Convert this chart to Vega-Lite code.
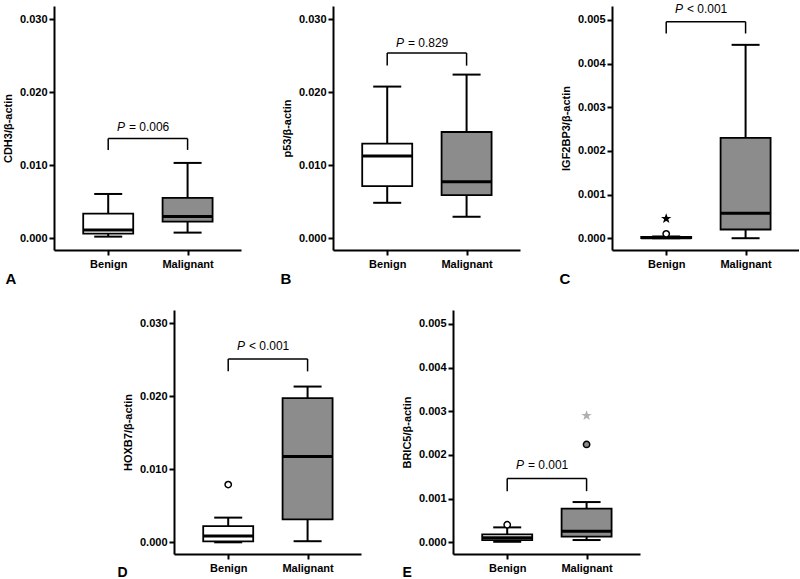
{
  "$schema": "https://vega.github.io/schema/vega-lite/v6.json",
  "background": "white",
  "padding": {"left": 2, "top": 3, "right": 0, "bottom": 0},
  "config": {
    "view": {"stroke": null},
    "font": "Liberation Sans",
    "axisX": {"domainColor": "black", "domainWidth": 2, "tickColor": "black", "tickWidth": 2, "tickSize": 5, "labelFont": "Liberation Sans", "labelFontWeight": "bold", "labelFontSize": 11, "labelColor": "black", "labelPadding": 3, "labelFlush": false, "grid": false, "titleFont": "Liberation Sans", "titleFontSize": 15, "titleFontWeight": "bold", "titleColor": "black", "titleAlign": "left", "titleBaseline": "alphabetic", "titleAnchor": "start", "titleY": 33},
    "axisY": {"domainColor": "black", "domainWidth": 2, "tickColor": "black", "tickWidth": 2, "tickSize": 5, "labelFont": "Liberation Sans", "labelFontWeight": "bold", "labelFontSize": 11, "labelColor": "black", "labelPadding": 2, "grid": false, "titleFont": "Liberation Sans", "titleFontSize": 11, "titleFontWeight": "bold", "titleColor": "black", "titlePadding": 6, "format": ".3f"}
  },
  "datasets": {
    "boxes": [
      {"panel": "A", "group": "Benign", "pos": 1, "min": 0.00023, "q1": 0.00064, "median": 0.00114, "q3": 0.00338, "max": 0.00607},
      {"panel": "A", "group": "Malignant", "pos": 2, "min": 0.00078, "q1": 0.00228, "median": 0.00297, "q3": 0.00553, "max": 0.01032},
      {"panel": "B", "group": "Benign", "pos": 1, "min": 0.00486, "q1": 0.00714, "median": 0.01127, "q3": 0.01295, "max": 0.02077},
      {"panel": "B", "group": "Malignant", "pos": 2, "min": 0.00295, "q1": 0.00591, "median": 0.00773, "q3": 0.01455, "max": 0.02241},
      {"panel": "C", "group": "Benign", "pos": 1, "min": 0.0, "q1": 0.000005, "median": 0.00001, "q3": 0.00003, "max": 0.00004},
      {"panel": "C", "group": "Malignant", "pos": 2, "min": 0.0, "q1": 0.0002, "median": 0.00057, "q3": 0.0023, "max": 0.00443},
      {"panel": "D", "group": "Benign", "pos": 1, "min": 0.0, "q1": 0.00012, "median": 0.00085, "q3": 0.00222, "max": 0.00338},
      {"panel": "D", "group": "Malignant", "pos": 2, "min": 0.00015, "q1": 0.00315, "median": 0.01175, "q3": 0.01975, "max": 0.02132},
      {"panel": "E", "group": "Benign", "pos": 1, "min": 0.00001, "q1": 0.00005, "median": 0.0001, "q3": 0.00018, "max": 0.00034},
      {"panel": "E", "group": "Malignant", "pos": 2, "min": 0.00005, "q1": 0.00013, "median": 0.00025, "q3": 0.00077, "max": 0.00092}
    ],
    "outliers": [
      {"panel": "C", "group": "Benign", "pos": 1, "value": 0.0001, "kind": "open"},
      {"panel": "C", "group": "Benign", "pos": 1, "value": 0.00045, "kind": "star"},
      {"panel": "D", "group": "Benign", "pos": 1, "value": 0.0079, "kind": "open"},
      {"panel": "E", "group": "Benign", "pos": 1, "value": 0.0004, "kind": "open"},
      {"panel": "E", "group": "Malignant", "pos": 2, "value": 0.00224, "kind": "filled"},
      {"panel": "E", "group": "Malignant", "pos": 2, "value": 0.0029, "kind": "lightstar"}
    ],
    "tests": [
      {"panel": "A", "from": 1, "to": 2, "mid": 1.5, "top": 0.01365, "low": 0.0121, "ty": 0.0153, "p": "P", "rel": "= 0.006"},
      {"panel": "B", "from": 1, "to": 2, "mid": 1.5, "top": 0.02536, "low": 0.02364, "ty": 0.0268, "p": "P", "rel": "= 0.829"},
      {"panel": "C", "from": 1, "to": 2, "mid": 1.5, "top": 0.00496, "low": 0.00469, "ty": 0.00524, "p": "P", "rel": "< 0.001"},
      {"panel": "D", "from": 1, "to": 2, "mid": 1.5, "top": 0.0251, "low": 0.0234, "ty": 0.0269, "p": "P", "rel": "< 0.001"},
      {"panel": "E", "from": 1, "to": 2, "mid": 1.5, "top": 0.00146, "low": 0.00117, "ty": 0.00178, "p": "P", "rel": "= 0.001"}
    ]
  },
  "spacing": 24,
  "resolve": {"scale": {"x": "independent", "y": "independent"}},
  "vconcat": [
    {
      "spacing": 39,
      "resolve": {"scale": {"x": "independent", "y": "independent"}},
      "hconcat": [
        {
          "width": 187, "height": 244,
          "layer": [
            {"data": {"name": "boxes"}, "transform": [{"filter": "datum.panel === 'A'"}], "mark": {"type": "rule", "stroke": "black", "strokeWidth": 2},
             "encoding": {"x": {"field": "pos", "type": "quantitative", "scale": {"domain": [0.38, 2.61], "nice": false, "zero": false}, "axis": {"values": [1, 2], "labelExpr": "datum.value == 1 ? 'Benign' : 'Malignant'", "title": "A", "titleX": -49}},
                          "y": {"field": "min", "type": "quantitative", "scale": {"domain": [-0.0016, 0.0318], "nice": false, "zero": false}, "axis": {"values": [0, 0.01, 0.02, 0.03], "title": "CDH3/β-actin"}},
                          "y2": {"field": "max"}}},
            {"data": {"name": "boxes"}, "transform": [{"filter": "datum.panel === 'A'"}], "mark": {"type": "tick", "orient": "horizontal", "size": 28, "thickness": 2, "color": "black", "opacity": 1},
             "encoding": {"x": {"field": "pos", "type": "quantitative", "scale": {"domain": [0.38, 2.61], "nice": false, "zero": false}},
                          "y": {"field": "min", "type": "quantitative", "scale": {"domain": [-0.0016, 0.0318], "nice": false, "zero": false}}}},
            {"data": {"name": "boxes"}, "transform": [{"filter": "datum.panel === 'A'"}], "mark": {"type": "tick", "orient": "horizontal", "size": 28, "thickness": 2, "color": "black", "opacity": 1},
             "encoding": {"x": {"field": "pos", "type": "quantitative", "scale": {"domain": [0.38, 2.61], "nice": false, "zero": false}},
                          "y": {"field": "max", "type": "quantitative", "scale": {"domain": [-0.0016, 0.0318], "nice": false, "zero": false}}}},
            {"data": {"name": "boxes"}, "transform": [{"filter": "datum.panel === 'A'"}], "mark": {"type": "bar", "orient": "vertical", "width": 50, "stroke": "black", "strokeWidth": 1.8, "opacity": 1},
             "encoding": {"x": {"field": "pos", "type": "quantitative", "scale": {"domain": [0.38, 2.61], "nice": false, "zero": false}},
                          "y": {"field": "q1", "type": "quantitative", "scale": {"domain": [-0.0016, 0.0318], "nice": false, "zero": false}},
                          "y2": {"field": "q3"},
                          "fill": {"condition": {"test": "datum.group === 'Benign'", "value": "white"}, "value": "#8c8c8c"}}},
            {"data": {"name": "boxes"}, "transform": [{"filter": "datum.panel === 'A'"}], "mark": {"type": "tick", "orient": "horizontal", "size": 50, "thickness": 3, "color": "black", "opacity": 1},
             "encoding": {"x": {"field": "pos", "type": "quantitative", "scale": {"domain": [0.38, 2.61], "nice": false, "zero": false}},
                          "y": {"field": "median", "type": "quantitative", "scale": {"domain": [-0.0016, 0.0318], "nice": false, "zero": false}}}},
            {"data": {"name": "tests"}, "transform": [{"filter": "datum.panel === 'A'"}], "mark": {"type": "rule", "stroke": "black", "strokeWidth": 1.5},
             "encoding": {"x": {"field": "from", "type": "quantitative", "scale": {"domain": [0.38, 2.61], "nice": false, "zero": false}}, "x2": {"field": "to"},
                          "y": {"field": "top", "type": "quantitative", "scale": {"domain": [-0.0016, 0.0318], "nice": false, "zero": false}}}},
            {"data": {"name": "tests"}, "transform": [{"filter": "datum.panel === 'A'"}], "mark": {"type": "rule", "stroke": "black", "strokeWidth": 1.5},
             "encoding": {"x": {"field": "from", "type": "quantitative", "scale": {"domain": [0.38, 2.61], "nice": false, "zero": false}},
                          "y": {"field": "top", "type": "quantitative", "scale": {"domain": [-0.0016, 0.0318], "nice": false, "zero": false}}, "y2": {"field": "low"}}},
            {"data": {"name": "tests"}, "transform": [{"filter": "datum.panel === 'A'"}], "mark": {"type": "rule", "stroke": "black", "strokeWidth": 1.5},
             "encoding": {"x": {"field": "to", "type": "quantitative", "scale": {"domain": [0.38, 2.61], "nice": false, "zero": false}},
                          "y": {"field": "top", "type": "quantitative", "scale": {"domain": [-0.0016, 0.0318], "nice": false, "zero": false}}, "y2": {"field": "low"}}},
            {"data": {"name": "tests"}, "transform": [{"filter": "datum.panel === 'A'"}], "mark": {"type": "text", "align": "right", "baseline": "middle", "dx": -23, "fontSize": 12, "fontStyle": "italic", "color": "black"},
             "encoding": {"x": {"field": "mid", "type": "quantitative", "scale": {"domain": [0.38, 2.61], "nice": false, "zero": false}},
                          "y": {"field": "ty", "type": "quantitative", "scale": {"domain": [-0.0016, 0.0318], "nice": false, "zero": false}}, "text": {"field": "p"}}},
            {"data": {"name": "tests"}, "transform": [{"filter": "datum.panel === 'A'"}], "mark": {"type": "text", "align": "left", "baseline": "middle", "dx": -19, "fontSize": 12, "color": "black"},
             "encoding": {"x": {"field": "mid", "type": "quantitative", "scale": {"domain": [0.38, 2.61], "nice": false, "zero": false}},
                          "y": {"field": "ty", "type": "quantitative", "scale": {"domain": [-0.0016, 0.0318], "nice": false, "zero": false}}, "text": {"field": "rel"}}}
          ]
        },
        {
          "width": 187, "height": 244,
          "layer": [
            {"data": {"name": "boxes"}, "transform": [{"filter": "datum.panel === 'B'"}], "mark": {"type": "rule", "stroke": "black", "strokeWidth": 2},
             "encoding": {"x": {"field": "pos", "type": "quantitative", "scale": {"domain": [0.38, 2.61], "nice": false, "zero": false}, "axis": {"values": [1, 2], "labelExpr": "datum.value == 1 ? 'Benign' : 'Malignant'", "title": "B", "titleX": -53}},
                          "y": {"field": "min", "type": "quantitative", "scale": {"domain": [-0.0016, 0.0318], "nice": false, "zero": false}, "axis": {"values": [0, 0.01, 0.02, 0.03], "title": "p53/β-actin"}},
                          "y2": {"field": "max"}}},
            {"data": {"name": "boxes"}, "transform": [{"filter": "datum.panel === 'B'"}], "mark": {"type": "tick", "orient": "horizontal", "size": 28, "thickness": 2, "color": "black", "opacity": 1},
             "encoding": {"x": {"field": "pos", "type": "quantitative", "scale": {"domain": [0.38, 2.61], "nice": false, "zero": false}},
                          "y": {"field": "min", "type": "quantitative", "scale": {"domain": [-0.0016, 0.0318], "nice": false, "zero": false}}}},
            {"data": {"name": "boxes"}, "transform": [{"filter": "datum.panel === 'B'"}], "mark": {"type": "tick", "orient": "horizontal", "size": 28, "thickness": 2, "color": "black", "opacity": 1},
             "encoding": {"x": {"field": "pos", "type": "quantitative", "scale": {"domain": [0.38, 2.61], "nice": false, "zero": false}},
                          "y": {"field": "max", "type": "quantitative", "scale": {"domain": [-0.0016, 0.0318], "nice": false, "zero": false}}}},
            {"data": {"name": "boxes"}, "transform": [{"filter": "datum.panel === 'B'"}], "mark": {"type": "bar", "orient": "vertical", "width": 50, "stroke": "black", "strokeWidth": 1.8, "opacity": 1},
             "encoding": {"x": {"field": "pos", "type": "quantitative", "scale": {"domain": [0.38, 2.61], "nice": false, "zero": false}},
                          "y": {"field": "q1", "type": "quantitative", "scale": {"domain": [-0.0016, 0.0318], "nice": false, "zero": false}},
                          "y2": {"field": "q3"},
                          "fill": {"condition": {"test": "datum.group === 'Benign'", "value": "white"}, "value": "#8c8c8c"}}},
            {"data": {"name": "boxes"}, "transform": [{"filter": "datum.panel === 'B'"}], "mark": {"type": "tick", "orient": "horizontal", "size": 50, "thickness": 3, "color": "black", "opacity": 1},
             "encoding": {"x": {"field": "pos", "type": "quantitative", "scale": {"domain": [0.38, 2.61], "nice": false, "zero": false}},
                          "y": {"field": "median", "type": "quantitative", "scale": {"domain": [-0.0016, 0.0318], "nice": false, "zero": false}}}},
            {"data": {"name": "tests"}, "transform": [{"filter": "datum.panel === 'B'"}], "mark": {"type": "rule", "stroke": "black", "strokeWidth": 1.5},
             "encoding": {"x": {"field": "from", "type": "quantitative", "scale": {"domain": [0.38, 2.61], "nice": false, "zero": false}}, "x2": {"field": "to"},
                          "y": {"field": "top", "type": "quantitative", "scale": {"domain": [-0.0016, 0.0318], "nice": false, "zero": false}}}},
            {"data": {"name": "tests"}, "transform": [{"filter": "datum.panel === 'B'"}], "mark": {"type": "rule", "stroke": "black", "strokeWidth": 1.5},
             "encoding": {"x": {"field": "from", "type": "quantitative", "scale": {"domain": [0.38, 2.61], "nice": false, "zero": false}},
                          "y": {"field": "top", "type": "quantitative", "scale": {"domain": [-0.0016, 0.0318], "nice": false, "zero": false}}, "y2": {"field": "low"}}},
            {"data": {"name": "tests"}, "transform": [{"filter": "datum.panel === 'B'"}], "mark": {"type": "rule", "stroke": "black", "strokeWidth": 1.5},
             "encoding": {"x": {"field": "to", "type": "quantitative", "scale": {"domain": [0.38, 2.61], "nice": false, "zero": false}},
                          "y": {"field": "top", "type": "quantitative", "scale": {"domain": [-0.0016, 0.0318], "nice": false, "zero": false}}, "y2": {"field": "low"}}},
            {"data": {"name": "tests"}, "transform": [{"filter": "datum.panel === 'B'"}], "mark": {"type": "text", "align": "right", "baseline": "middle", "dx": -23, "fontSize": 12, "fontStyle": "italic", "color": "black"},
             "encoding": {"x": {"field": "mid", "type": "quantitative", "scale": {"domain": [0.38, 2.61], "nice": false, "zero": false}},
                          "y": {"field": "ty", "type": "quantitative", "scale": {"domain": [-0.0016, 0.0318], "nice": false, "zero": false}}, "text": {"field": "p"}}},
            {"data": {"name": "tests"}, "transform": [{"filter": "datum.panel === 'B'"}], "mark": {"type": "text", "align": "left", "baseline": "middle", "dx": -19, "fontSize": 12, "color": "black"},
             "encoding": {"x": {"field": "mid", "type": "quantitative", "scale": {"domain": [0.38, 2.61], "nice": false, "zero": false}},
                          "y": {"field": "ty", "type": "quantitative", "scale": {"domain": [-0.0016, 0.0318], "nice": false, "zero": false}}, "text": {"field": "rel"}}}
          ]
        },
        {
          "width": 187, "height": 244,
          "layer": [
            {"data": {"name": "boxes"}, "transform": [{"filter": "datum.panel === 'C'"}], "mark": {"type": "rule", "stroke": "black", "strokeWidth": 2},
             "encoding": {"x": {"field": "pos", "type": "quantitative", "scale": {"domain": [0.38, 2.61], "nice": false, "zero": false}, "axis": {"values": [1, 2], "labelExpr": "datum.value == 1 ? 'Benign' : 'Malignant'", "title": "C", "titleX": -53}},
                          "y": {"field": "min", "type": "quantitative", "scale": {"domain": [-0.00027, 0.00532], "nice": false, "zero": false}, "axis": {"values": [0, 0.001, 0.002, 0.003, 0.004, 0.005], "title": "IGF2BP3/β-actin"}},
                          "y2": {"field": "max"}}},
            {"data": {"name": "boxes"}, "transform": [{"filter": "datum.panel === 'C'"}], "mark": {"type": "tick", "orient": "horizontal", "size": 28, "thickness": 2, "color": "black", "opacity": 1},
             "encoding": {"x": {"field": "pos", "type": "quantitative", "scale": {"domain": [0.38, 2.61], "nice": false, "zero": false}},
                          "y": {"field": "min", "type": "quantitative", "scale": {"domain": [-0.00027, 0.00532], "nice": false, "zero": false}}}},
            {"data": {"name": "boxes"}, "transform": [{"filter": "datum.panel === 'C'"}], "mark": {"type": "tick", "orient": "horizontal", "size": 28, "thickness": 2, "color": "black", "opacity": 1},
             "encoding": {"x": {"field": "pos", "type": "quantitative", "scale": {"domain": [0.38, 2.61], "nice": false, "zero": false}},
                          "y": {"field": "max", "type": "quantitative", "scale": {"domain": [-0.00027, 0.00532], "nice": false, "zero": false}}}},
            {"data": {"name": "boxes"}, "transform": [{"filter": "datum.panel === 'C'"}], "mark": {"type": "bar", "orient": "vertical", "width": 50, "stroke": "black", "strokeWidth": 1.8, "opacity": 1},
             "encoding": {"x": {"field": "pos", "type": "quantitative", "scale": {"domain": [0.38, 2.61], "nice": false, "zero": false}},
                          "y": {"field": "q1", "type": "quantitative", "scale": {"domain": [-0.00027, 0.00532], "nice": false, "zero": false}},
                          "y2": {"field": "q3"},
                          "fill": {"condition": {"test": "datum.group === 'Benign'", "value": "white"}, "value": "#8c8c8c"}}},
            {"data": {"name": "boxes"}, "transform": [{"filter": "datum.panel === 'C'"}], "mark": {"type": "tick", "orient": "horizontal", "size": 50, "thickness": 3, "color": "black", "opacity": 1},
             "encoding": {"x": {"field": "pos", "type": "quantitative", "scale": {"domain": [0.38, 2.61], "nice": false, "zero": false}},
                          "y": {"field": "median", "type": "quantitative", "scale": {"domain": [-0.00027, 0.00532], "nice": false, "zero": false}}}},
            {"data": {"name": "outliers"}, "transform": [{"filter": "datum.panel === 'C'"}], "mark": {"type": "point", "filled": true, "strokeWidth": 1.5, "opacity": 1},
             "encoding": {"x": {"field": "pos", "type": "quantitative", "scale": {"domain": [0.38, 2.61], "nice": false, "zero": false}},
                          "y": {"field": "value", "type": "quantitative", "scale": {"domain": [-0.00027, 0.00532], "nice": false, "zero": false}},
                          "shape": {"field": "kind", "type": "nominal", "legend": null, "scale": {"domain": ["open", "filled", "star", "lightstar"], "range": ["circle", "circle", "M0,-1L0.235,-0.324L0.951,-0.309L0.38,0.124L0.588,0.809L0,0.4L-0.588,0.809L-0.38,0.124L-0.951,-0.309L-0.235,-0.324Z", "M0,-1L0.235,-0.324L0.951,-0.309L0.38,0.124L0.588,0.809L0,0.4L-0.588,0.809L-0.38,0.124L-0.951,-0.309L-0.235,-0.324Z"]}},
                          "fill": {"field": "kind", "type": "nominal", "legend": null, "scale": {"domain": ["open", "filled", "star", "lightstar"], "range": ["white", "#8c8c8c", "black", "#b0b0b0"]}},
                          "stroke": {"field": "kind", "type": "nominal", "legend": null, "scale": {"domain": ["open", "filled", "star", "lightstar"], "range": ["black", "black", "black", "#b0b0b0"]}},
                          "size": {"field": "kind", "type": "nominal", "legend": null, "scale": {"domain": ["open", "filled", "star", "lightstar"], "range": [40, 40, 70, 70]}}}},
            {"data": {"name": "tests"}, "transform": [{"filter": "datum.panel === 'C'"}], "mark": {"type": "rule", "stroke": "black", "strokeWidth": 1.5},
             "encoding": {"x": {"field": "from", "type": "quantitative", "scale": {"domain": [0.38, 2.61], "nice": false, "zero": false}}, "x2": {"field": "to"},
                          "y": {"field": "top", "type": "quantitative", "scale": {"domain": [-0.00027, 0.00532], "nice": false, "zero": false}}}},
            {"data": {"name": "tests"}, "transform": [{"filter": "datum.panel === 'C'"}], "mark": {"type": "rule", "stroke": "black", "strokeWidth": 1.5},
             "encoding": {"x": {"field": "from", "type": "quantitative", "scale": {"domain": [0.38, 2.61], "nice": false, "zero": false}},
                          "y": {"field": "top", "type": "quantitative", "scale": {"domain": [-0.00027, 0.00532], "nice": false, "zero": false}}, "y2": {"field": "low"}}},
            {"data": {"name": "tests"}, "transform": [{"filter": "datum.panel === 'C'"}], "mark": {"type": "rule", "stroke": "black", "strokeWidth": 1.5},
             "encoding": {"x": {"field": "to", "type": "quantitative", "scale": {"domain": [0.38, 2.61], "nice": false, "zero": false}},
                          "y": {"field": "top", "type": "quantitative", "scale": {"domain": [-0.00027, 0.00532], "nice": false, "zero": false}}, "y2": {"field": "low"}}},
            {"data": {"name": "tests"}, "transform": [{"filter": "datum.panel === 'C'"}], "mark": {"type": "text", "align": "right", "baseline": "middle", "dx": -23, "fontSize": 12, "fontStyle": "italic", "color": "black"},
             "encoding": {"x": {"field": "mid", "type": "quantitative", "scale": {"domain": [0.38, 2.61], "nice": false, "zero": false}},
                          "y": {"field": "ty", "type": "quantitative", "scale": {"domain": [-0.00027, 0.00532], "nice": false, "zero": false}}, "text": {"field": "p"}}},
            {"data": {"name": "tests"}, "transform": [{"filter": "datum.panel === 'C'"}], "mark": {"type": "text", "align": "left", "baseline": "middle", "dx": -19, "fontSize": 12, "color": "black"},
             "encoding": {"x": {"field": "mid", "type": "quantitative", "scale": {"domain": [0.38, 2.61], "nice": false, "zero": false}},
                          "y": {"field": "ty", "type": "quantitative", "scale": {"domain": [-0.00027, 0.00532], "nice": false, "zero": false}}, "text": {"field": "rel"}}}
          ]
        }
      ]
    },
    {
      "spacing": 40,
      "resolve": {"scale": {"x": "independent", "y": "independent"}},
      "hconcat": [
        {"width": 23, "height": 244, "data": {"values": []}, "mark": "text"},
        {
          "width": 187, "height": 244,
          "layer": [
            {"data": {"name": "boxes"}, "transform": [{"filter": "datum.panel === 'D'"}], "mark": {"type": "rule", "stroke": "black", "strokeWidth": 2},
             "encoding": {"x": {"field": "pos", "type": "quantitative", "scale": {"domain": [0.38, 2.61], "nice": false, "zero": false}, "axis": {"values": [1, 2], "labelExpr": "datum.value == 1 ? 'Benign' : 'Malignant'", "title": "D", "titleX": -57, "titleY": 22, "titleFontSize": 14}},
                          "y": {"field": "min", "type": "quantitative", "scale": {"domain": [-0.0016, 0.0318], "nice": false, "zero": false}, "axis": {"values": [0, 0.01, 0.02, 0.03], "title": "HOXB7/β-actin"}},
                          "y2": {"field": "max"}}},
            {"data": {"name": "boxes"}, "transform": [{"filter": "datum.panel === 'D'"}], "mark": {"type": "tick", "orient": "horizontal", "size": 28, "thickness": 2, "color": "black", "opacity": 1},
             "encoding": {"x": {"field": "pos", "type": "quantitative", "scale": {"domain": [0.38, 2.61], "nice": false, "zero": false}},
                          "y": {"field": "min", "type": "quantitative", "scale": {"domain": [-0.0016, 0.0318], "nice": false, "zero": false}}}},
            {"data": {"name": "boxes"}, "transform": [{"filter": "datum.panel === 'D'"}], "mark": {"type": "tick", "orient": "horizontal", "size": 28, "thickness": 2, "color": "black", "opacity": 1},
             "encoding": {"x": {"field": "pos", "type": "quantitative", "scale": {"domain": [0.38, 2.61], "nice": false, "zero": false}},
                          "y": {"field": "max", "type": "quantitative", "scale": {"domain": [-0.0016, 0.0318], "nice": false, "zero": false}}}},
            {"data": {"name": "boxes"}, "transform": [{"filter": "datum.panel === 'D'"}], "mark": {"type": "bar", "orient": "vertical", "width": 50, "stroke": "black", "strokeWidth": 1.8, "opacity": 1},
             "encoding": {"x": {"field": "pos", "type": "quantitative", "scale": {"domain": [0.38, 2.61], "nice": false, "zero": false}},
                          "y": {"field": "q1", "type": "quantitative", "scale": {"domain": [-0.0016, 0.0318], "nice": false, "zero": false}},
                          "y2": {"field": "q3"},
                          "fill": {"condition": {"test": "datum.group === 'Benign'", "value": "white"}, "value": "#8c8c8c"}}},
            {"data": {"name": "boxes"}, "transform": [{"filter": "datum.panel === 'D'"}], "mark": {"type": "tick", "orient": "horizontal", "size": 50, "thickness": 3, "color": "black", "opacity": 1},
             "encoding": {"x": {"field": "pos", "type": "quantitative", "scale": {"domain": [0.38, 2.61], "nice": false, "zero": false}},
                          "y": {"field": "median", "type": "quantitative", "scale": {"domain": [-0.0016, 0.0318], "nice": false, "zero": false}}}},
            {"data": {"name": "outliers"}, "transform": [{"filter": "datum.panel === 'D'"}], "mark": {"type": "point", "filled": true, "strokeWidth": 1.5, "opacity": 1},
             "encoding": {"x": {"field": "pos", "type": "quantitative", "scale": {"domain": [0.38, 2.61], "nice": false, "zero": false}},
                          "y": {"field": "value", "type": "quantitative", "scale": {"domain": [-0.0016, 0.0318], "nice": false, "zero": false}},
                          "shape": {"field": "kind", "type": "nominal", "legend": null, "scale": {"domain": ["open", "filled", "star", "lightstar"], "range": ["circle", "circle", "M0,-1L0.235,-0.324L0.951,-0.309L0.38,0.124L0.588,0.809L0,0.4L-0.588,0.809L-0.38,0.124L-0.951,-0.309L-0.235,-0.324Z", "M0,-1L0.235,-0.324L0.951,-0.309L0.38,0.124L0.588,0.809L0,0.4L-0.588,0.809L-0.38,0.124L-0.951,-0.309L-0.235,-0.324Z"]}},
                          "fill": {"field": "kind", "type": "nominal", "legend": null, "scale": {"domain": ["open", "filled", "star", "lightstar"], "range": ["white", "#8c8c8c", "black", "#b0b0b0"]}},
                          "stroke": {"field": "kind", "type": "nominal", "legend": null, "scale": {"domain": ["open", "filled", "star", "lightstar"], "range": ["black", "black", "black", "#b0b0b0"]}},
                          "size": {"field": "kind", "type": "nominal", "legend": null, "scale": {"domain": ["open", "filled", "star", "lightstar"], "range": [40, 40, 70, 70]}}}},
            {"data": {"name": "tests"}, "transform": [{"filter": "datum.panel === 'D'"}], "mark": {"type": "rule", "stroke": "black", "strokeWidth": 1.5},
             "encoding": {"x": {"field": "from", "type": "quantitative", "scale": {"domain": [0.38, 2.61], "nice": false, "zero": false}}, "x2": {"field": "to"},
                          "y": {"field": "top", "type": "quantitative", "scale": {"domain": [-0.0016, 0.0318], "nice": false, "zero": false}}}},
            {"data": {"name": "tests"}, "transform": [{"filter": "datum.panel === 'D'"}], "mark": {"type": "rule", "stroke": "black", "strokeWidth": 1.5},
             "encoding": {"x": {"field": "from", "type": "quantitative", "scale": {"domain": [0.38, 2.61], "nice": false, "zero": false}},
                          "y": {"field": "top", "type": "quantitative", "scale": {"domain": [-0.0016, 0.0318], "nice": false, "zero": false}}, "y2": {"field": "low"}}},
            {"data": {"name": "tests"}, "transform": [{"filter": "datum.panel === 'D'"}], "mark": {"type": "rule", "stroke": "black", "strokeWidth": 1.5},
             "encoding": {"x": {"field": "to", "type": "quantitative", "scale": {"domain": [0.38, 2.61], "nice": false, "zero": false}},
                          "y": {"field": "top", "type": "quantitative", "scale": {"domain": [-0.0016, 0.0318], "nice": false, "zero": false}}, "y2": {"field": "low"}}},
            {"data": {"name": "tests"}, "transform": [{"filter": "datum.panel === 'D'"}], "mark": {"type": "text", "align": "right", "baseline": "middle", "dx": -23, "fontSize": 12, "fontStyle": "italic", "color": "black"},
             "encoding": {"x": {"field": "mid", "type": "quantitative", "scale": {"domain": [0.38, 2.61], "nice": false, "zero": false}},
                          "y": {"field": "ty", "type": "quantitative", "scale": {"domain": [-0.0016, 0.0318], "nice": false, "zero": false}}, "text": {"field": "p"}}},
            {"data": {"name": "tests"}, "transform": [{"filter": "datum.panel === 'D'"}], "mark": {"type": "text", "align": "left", "baseline": "middle", "dx": -19, "fontSize": 12, "color": "black"},
             "encoding": {"x": {"field": "mid", "type": "quantitative", "scale": {"domain": [0.38, 2.61], "nice": false, "zero": false}},
                          "y": {"field": "ty", "type": "quantitative", "scale": {"domain": [-0.0016, 0.0318], "nice": false, "zero": false}}, "text": {"field": "rel"}}}
          ]
        },
        {
          "width": 187, "height": 244,
          "layer": [
            {"data": {"name": "boxes"}, "transform": [{"filter": "datum.panel === 'E'"}], "mark": {"type": "rule", "stroke": "black", "strokeWidth": 2},
             "encoding": {"x": {"field": "pos", "type": "quantitative", "scale": {"domain": [0.38, 2.61], "nice": false, "zero": false}, "axis": {"values": [1, 2], "labelExpr": "datum.value == 1 ? 'Benign' : 'Malignant'", "title": "E", "titleX": -51, "titleY": 22, "titleFontSize": 14}},
                          "y": {"field": "min", "type": "quantitative", "scale": {"domain": [-0.00027, 0.00532], "nice": false, "zero": false}, "axis": {"values": [0, 0.001, 0.002, 0.003, 0.004, 0.005], "title": "BRIC5/β-actin"}},
                          "y2": {"field": "max"}}},
            {"data": {"name": "boxes"}, "transform": [{"filter": "datum.panel === 'E'"}], "mark": {"type": "tick", "orient": "horizontal", "size": 28, "thickness": 2, "color": "black", "opacity": 1},
             "encoding": {"x": {"field": "pos", "type": "quantitative", "scale": {"domain": [0.38, 2.61], "nice": false, "zero": false}},
                          "y": {"field": "min", "type": "quantitative", "scale": {"domain": [-0.00027, 0.00532], "nice": false, "zero": false}}}},
            {"data": {"name": "boxes"}, "transform": [{"filter": "datum.panel === 'E'"}], "mark": {"type": "tick", "orient": "horizontal", "size": 28, "thickness": 2, "color": "black", "opacity": 1},
             "encoding": {"x": {"field": "pos", "type": "quantitative", "scale": {"domain": [0.38, 2.61], "nice": false, "zero": false}},
                          "y": {"field": "max", "type": "quantitative", "scale": {"domain": [-0.00027, 0.00532], "nice": false, "zero": false}}}},
            {"data": {"name": "boxes"}, "transform": [{"filter": "datum.panel === 'E'"}], "mark": {"type": "bar", "orient": "vertical", "width": 50, "stroke": "black", "strokeWidth": 1.8, "opacity": 1},
             "encoding": {"x": {"field": "pos", "type": "quantitative", "scale": {"domain": [0.38, 2.61], "nice": false, "zero": false}},
                          "y": {"field": "q1", "type": "quantitative", "scale": {"domain": [-0.00027, 0.00532], "nice": false, "zero": false}},
                          "y2": {"field": "q3"},
                          "fill": {"condition": {"test": "datum.group === 'Benign'", "value": "white"}, "value": "#8c8c8c"}}},
            {"data": {"name": "boxes"}, "transform": [{"filter": "datum.panel === 'E'"}], "mark": {"type": "tick", "orient": "horizontal", "size": 50, "thickness": 3, "color": "black", "opacity": 1},
             "encoding": {"x": {"field": "pos", "type": "quantitative", "scale": {"domain": [0.38, 2.61], "nice": false, "zero": false}},
                          "y": {"field": "median", "type": "quantitative", "scale": {"domain": [-0.00027, 0.00532], "nice": false, "zero": false}}}},
            {"data": {"name": "outliers"}, "transform": [{"filter": "datum.panel === 'E'"}], "mark": {"type": "point", "filled": true, "strokeWidth": 1.5, "opacity": 1},
             "encoding": {"x": {"field": "pos", "type": "quantitative", "scale": {"domain": [0.38, 2.61], "nice": false, "zero": false}},
                          "y": {"field": "value", "type": "quantitative", "scale": {"domain": [-0.00027, 0.00532], "nice": false, "zero": false}},
                          "shape": {"field": "kind", "type": "nominal", "legend": null, "scale": {"domain": ["open", "filled", "star", "lightstar"], "range": ["circle", "circle", "M0,-1L0.235,-0.324L0.951,-0.309L0.38,0.124L0.588,0.809L0,0.4L-0.588,0.809L-0.38,0.124L-0.951,-0.309L-0.235,-0.324Z", "M0,-1L0.235,-0.324L0.951,-0.309L0.38,0.124L0.588,0.809L0,0.4L-0.588,0.809L-0.38,0.124L-0.951,-0.309L-0.235,-0.324Z"]}},
                          "fill": {"field": "kind", "type": "nominal", "legend": null, "scale": {"domain": ["open", "filled", "star", "lightstar"], "range": ["white", "#8c8c8c", "black", "#b0b0b0"]}},
                          "stroke": {"field": "kind", "type": "nominal", "legend": null, "scale": {"domain": ["open", "filled", "star", "lightstar"], "range": ["black", "black", "black", "#b0b0b0"]}},
                          "size": {"field": "kind", "type": "nominal", "legend": null, "scale": {"domain": ["open", "filled", "star", "lightstar"], "range": [40, 40, 70, 70]}}}},
            {"data": {"name": "tests"}, "transform": [{"filter": "datum.panel === 'E'"}], "mark": {"type": "rule", "stroke": "black", "strokeWidth": 1.5},
             "encoding": {"x": {"field": "from", "type": "quantitative", "scale": {"domain": [0.38, 2.61], "nice": false, "zero": false}}, "x2": {"field": "to"},
                          "y": {"field": "top", "type": "quantitative", "scale": {"domain": [-0.00027, 0.00532], "nice": false, "zero": false}}}},
            {"data": {"name": "tests"}, "transform": [{"filter": "datum.panel === 'E'"}], "mark": {"type": "rule", "stroke": "black", "strokeWidth": 1.5},
             "encoding": {"x": {"field": "from", "type": "quantitative", "scale": {"domain": [0.38, 2.61], "nice": false, "zero": false}},
                          "y": {"field": "top", "type": "quantitative", "scale": {"domain": [-0.00027, 0.00532], "nice": false, "zero": false}}, "y2": {"field": "low"}}},
            {"data": {"name": "tests"}, "transform": [{"filter": "datum.panel === 'E'"}], "mark": {"type": "rule", "stroke": "black", "strokeWidth": 1.5},
             "encoding": {"x": {"field": "to", "type": "quantitative", "scale": {"domain": [0.38, 2.61], "nice": false, "zero": false}},
                          "y": {"field": "top", "type": "quantitative", "scale": {"domain": [-0.00027, 0.00532], "nice": false, "zero": false}}, "y2": {"field": "low"}}},
            {"data": {"name": "tests"}, "transform": [{"filter": "datum.panel === 'E'"}], "mark": {"type": "text", "align": "right", "baseline": "middle", "dx": -23, "fontSize": 12, "fontStyle": "italic", "color": "black"},
             "encoding": {"x": {"field": "mid", "type": "quantitative", "scale": {"domain": [0.38, 2.61], "nice": false, "zero": false}},
                          "y": {"field": "ty", "type": "quantitative", "scale": {"domain": [-0.00027, 0.00532], "nice": false, "zero": false}}, "text": {"field": "p"}}},
            {"data": {"name": "tests"}, "transform": [{"filter": "datum.panel === 'E'"}], "mark": {"type": "text", "align": "left", "baseline": "middle", "dx": -19, "fontSize": 12, "color": "black"},
             "encoding": {"x": {"field": "mid", "type": "quantitative", "scale": {"domain": [0.38, 2.61], "nice": false, "zero": false}},
                          "y": {"field": "ty", "type": "quantitative", "scale": {"domain": [-0.00027, 0.00532], "nice": false, "zero": false}}, "text": {"field": "rel"}}}
          ]
        }
      ]
    }
  ]
}
